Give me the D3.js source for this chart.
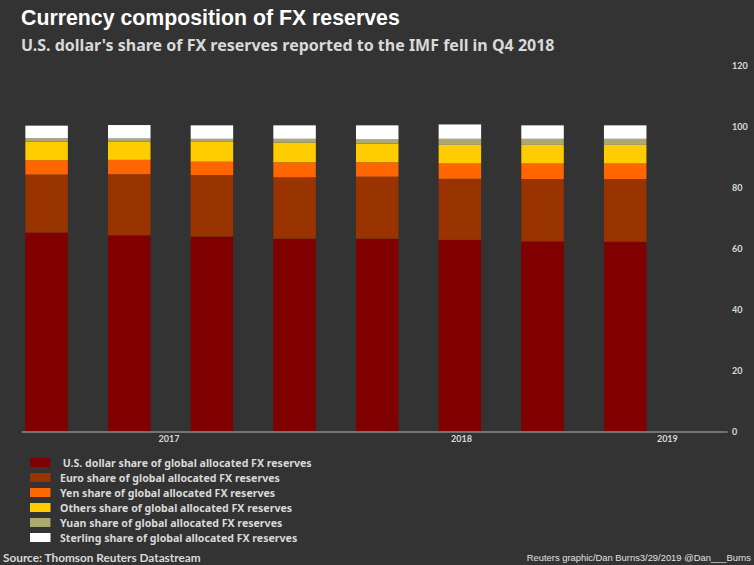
<!DOCTYPE html>
<html lang="en">
<head>
<meta charset="utf-8">
<script src="https://d3js.org/d3.v7.min.js"></script>
<style>
  body { margin: 0; background: #333333; }
  svg { display: block; }
  .title { font-family: "Liberation Sans Narrow", "Arial Narrow", sans-serif; font-weight: bold; fill: #ffffff; }
  .sub { font-family: "Noto Sans", Lato, sans-serif; font-weight: bold; fill: #d9d9d9; }
  .lbl { font-family: Lato, "Noto Sans", sans-serif; font-weight: bold; fill: #d9d9d9; }
  .leg { font-family: "Noto Sans", Lato, sans-serif; font-weight: bold; fill: #d9d9d9; }
</style>
</head>
<body>
<svg id="chart" width="754" height="565"></svg>
<script>
// quarters shown, Q1 2017 .. Q4 2018
var quarters = ["Q1 2017", "Q2 2017", "Q3 2017", "Q4 2017", "Q1 2018", "Q2 2018", "Q3 2018", "Q4 2018"];

// shares in percent
var usdShare = [65.3, 64.4, 64.0, 63.3, 63.3, 62.9, 62.4, 62.3];
var eurShare = [19.0, 20.0, 20.1, 20.1, 20.3, 20.0, 20.4, 20.5];
var jpyShare = [4.7, 4.7, 4.4, 4.9, 4.7, 5.0, 5.1, 5.1];
var otherShare = [6.1, 6.0, 6.5, 6.4, 6.1, 6.1, 6.1, 6.1];
var cnyShare = [1.1, 1.0, 1.0, 1.3, 1.4, 2.0, 2.0, 2.0];
var gbpShare = [4.1, 4.4, 4.4, 4.4, 4.6, 4.7, 4.4, 4.4];

var seriesNames = [
  " U.S. dollar share of global allocated FX reserves",
  "Euro share of global allocated FX reserves",
  "Yen share of global allocated FX reserves",
  "Others share of global allocated FX reserves",
  "Yuan share of global allocated FX reserves",
  "Sterling share of global allocated FX reserves"
];
var seriesColors = ["#800000", "#993300", "#ff6600", "#ffcc00", "#aca86f", "#ffffff"];

var yTicks = [0, 20, 40, 60, 80, 100, 120];
var yearLabels = ["2017", "2018", "2019"];
var yearAt = [1.48, 5.02, 7.51];   // where the year labels sit, in quarter-index units

var svg = d3.select("#chart");
svg.append("rect").attr("width", 754).attr("height", 565).attr("fill", "#333333");

var allSeries = [usdShare, eurShare, jpyShare, otherShare, cnyShare, gbpShare];
var rows = quarters.map(function(q, i) {
  var r = { q: i };
  allSeries.forEach(function(s, k) { r["s" + k] = s[i]; });
  return r;
});
var keys = allSeries.map(function(s, k) { return "s" + k; });
var stacked = d3.stack().keys(keys)(rows);

var x = d3.scaleLinear().domain([0, quarters.length - 1]).range([46.6, 625.2]);
var barW = 42.5;
var y = d3.scaleLinear().domain([0, 120]).range([432, 65.5]);

// bars
svg.append("g")
  .selectAll("g")
  .data(stacked)
  .join("g")
  .attr("fill", function(d, k) { return seriesColors[k]; })
  .selectAll("rect")
  .data(function(d) { return d; })
  .join("rect")
  .attr("x", function(d) { return x(d.data.q) - barW / 2; })
  .attr("width", barW)
  .attr("y", function(d) { return y(d[1]); })
  .attr("height", function(d) { return y(d[0]) - y(d[1]); });

// baseline
svg.append("line")
  .attr("x1", x(-0.3)).attr("x2", x(8.24))
  .attr("y1", y(0)).attr("y2", y(0))
  .attr("stroke", "#8a8a8a").attr("stroke-width", 1.5);

// right axis labels
svg.append("g")
  .selectAll("text")
  .data(yTicks)
  .join("text")
  .attr("class", "lbl")
  .attr("x", 732)
  .attr("y", function(d) { return y(d); })
  .attr("dy", "0.35em")
  .style("font-size", "9px")
  .text(function(d) { return d; });

// year labels
svg.append("g")
  .selectAll("text")
  .data(yearLabels)
  .join("text")
  .attr("class", "lbl")
  .attr("x", function(d, i) { return x(yearAt[i]); })
  .attr("y", 442)
  .attr("text-anchor", "middle")
  .style("font-size", "9px")
  .text(function(d) { return d; });

// titles
svg.append("text").attr("class", "title").attr("x", 21).attr("y", 25)
  .style("font-size", "21.3px").text("Currency composition of FX reserves");
svg.append("text").attr("class", "sub").attr("x", 21).attr("y", 51)
  .style("font-size", "16px").text("U.S. dollar's share of FX reserves reported to the IMF fell in Q4 2018");

// legend
var legend = svg.append("g")
  .selectAll("g")
  .data(seriesNames)
  .join("g")
  .attr("transform", function(d, i) { return "translate(30," + (463 + i * 15) + ")"; });
legend.append("rect")
  .attr("x", 0).attr("y", -5).attr("width", 20.5).attr("height", 9)
  .attr("fill", function(d, i) { return seriesColors[i]; });
legend.append("text")
  .attr("class", "leg")
  .attr("x", 30)
  .attr("y", 0)
  .attr("dy", "0.35em")
  .style("font-size", "10.6px")
  .style("white-space", "pre")
  .attr("xml:space", "preserve")
  .text(function(d) { return d; });

// footer
svg.append("text").attr("class", "lbl").attr("x", 3).attr("y", 562)
  .style("font-size", "11.8px").text("Source: Thomson Reuters Datastream");
svg.append("text").attr("x", 751).attr("y", 561)
  .attr("text-anchor", "end")
  .style("font-family", "'Liberation Sans', Arial, sans-serif")
  .style("font-size", "9.4px")
  .style("fill", "#e0e0e0")
  .text("Reuters graphic/Dan Burns3/29/2019 @Dan___Burns");
</script>
</body>
</html>
